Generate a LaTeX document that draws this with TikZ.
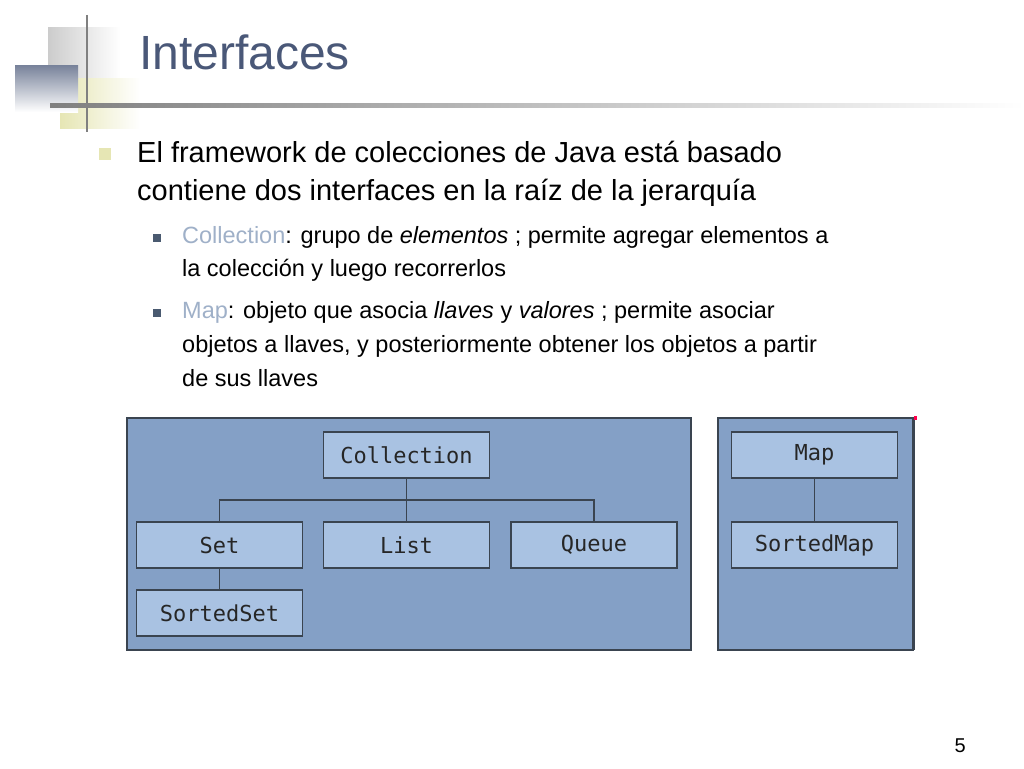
\documentclass[tikz,border=0pt]{standalone}
\usepackage{fontspec}
\setmainfont{Liberation Sans}
\setmonofont{DejaVu Sans Mono}
\usetikzlibrary{positioning}
\definecolor{titleblue}{HTML}{4A5878}
\definecolor{panelblue}{HTML}{84A0C6}
\definecolor{boxblue}{HTML}{A9C2E2}
\definecolor{edgegray}{HTML}{3A4450}
\definecolor{keyword}{HTML}{9FB0C8}
\definecolor{bulletyellow}{HTML}{E6E6B4}
\definecolor{subbullet}{HTML}{4A5A70}
\tikzset{
  iface/.style = {draw=edgegray, line width=1.3pt, fill=boxblue, minimum width=166pt, minimum height=46pt,
    inner sep=0pt, font=\ttfamily\fontsize{22}{24}\selectfont, text=black!85},
  panel/.style = {draw=edgegray, line width=1.2pt, fill=panelblue},
  body/.style = {anchor=base west, inner sep=0pt, font=\fontsize{29}{34}\selectfont},
  sub/.style = {anchor=base west, inner sep=0pt, font=\fontsize{23.5}{28}\selectfont},
  link/.style = {draw=edgegray, line width=1.3pt}
}

\begin{document}
\begin{tikzpicture}[x=1pt, y=-1pt]
  \useasboundingbox (0,0) rectangle (1024,768);

  %% Corner decoration
  \shade[left color=gray!40, right color=white] (48,28) rectangle (120,95);
  \shade[left color=bulletyellow, right color=white] (60,78) rectangle (140,128);
  \shade[shading angle=45, top color=titleblue!75, bottom color=white] (15,65) rectangle (78,112);
  \draw[gray, line width=2.5pt] (87,15) -- (87,132);
  \shade[left color=gray, right color=white] (50,103.5) rectangle (1024,107);

  % Title
  \node[anchor=base west, inner sep=0pt, text=titleblue, font=\fontsize{48}{52}\selectfont] (title) at (139,70) {Interfaces};

  %% Text
  \fill[bulletyellow] (99,148) rectangle (111,160);
  \node[body] (l1) at (137,162) {El framework de colecciones de Java está basado};
  \node[body] (l2) at (137,200) {contiene dos interfaces en la raíz de la jerarquía};

  \fill[subbullet] (153,234) rectangle (161,242);
  \node[sub] (c1) at (182,243) {\textcolor{keyword}{Collection}: grupo de \textit{elementos} ; permite agregar elementos a};
  \node[sub] (c2) at (182,276) {la colección y luego recorrerlos};
  \fill[subbullet] (153,309) rectangle (161,317);
  \node[sub] (m1) at (182,318) {\textcolor{keyword}{Map}: objeto que asocia \textit{llaves} y \textit{valores} ; permite asociar};
  \node[sub] (m2) at (182,352) {objetos a llaves, y posteriormente obtener los objetos a partir};
  \node[sub] (m3) at (182,386) {de sus llaves};

  %% Collection hierarchy
  \draw[panel] (127,418) rectangle (691,650);
  \node[iface] (collection) at (406.5,455) {Collection};
  \node[iface] (set) at (219.5,545) {Set};
  \node[iface] (list) at (406.5,545) {List};
  \node[iface] (queue) at (594,545) {Queue};
  \node[iface] (sortedset) at (219.5,613) {SortedSet};
  \coordinate (bus) at (406.5,500);
  \draw[link] (collection) -- (list);
  \draw[link] (set.north) |- (bus) -| (queue.north);
  \draw[link] (set) -- (sortedset);

  %% Map hierarchy
  \draw[panel] (718,418) rectangle (913,650);
  \draw[edgegray, line width=2pt] (914,418) -- (914,650);
  \fill[red!70!magenta] (914,416) rectangle (917,420);
  \node[iface] (map) at (814.5,455) {Map};
  \node[iface] (sortedmap) at (814.5,545) {SortedMap};
  \draw[link] (map) -- (sortedmap);

  % Page number
  \node[anchor=base east, inner sep=0pt, font=\fontsize{20}{22}\selectfont] (page) at (966,752) {5};
\end{tikzpicture}
\end{document}
